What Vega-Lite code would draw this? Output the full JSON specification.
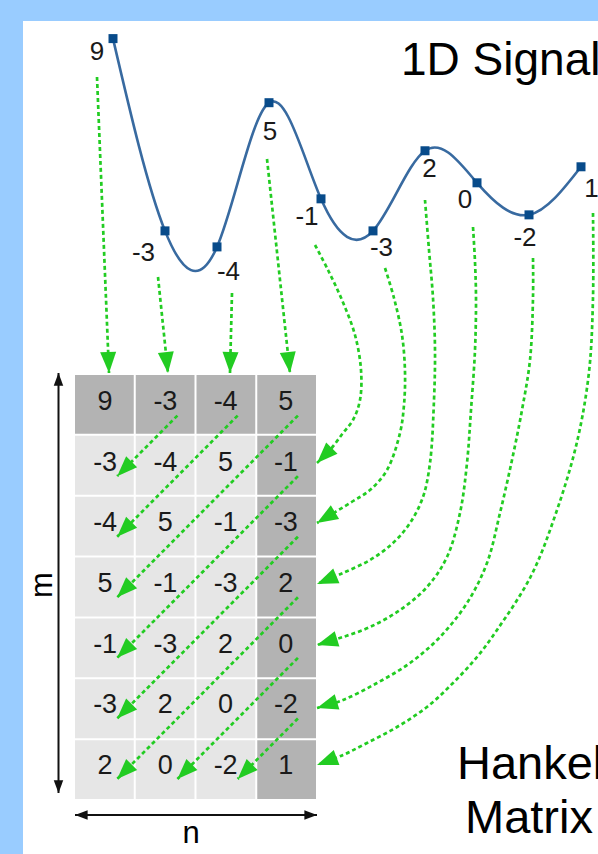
{
  "$schema": "https://vega.github.io/schema/vega-lite/v6.json",
  "width": 575,
  "height": 833,
  "autosize": "none",
  "padding": {"left": 23, "top": 21, "right": 0, "bottom": 0},
  "background": "#99ccff",
  "config": {
    "view": {"fill": "#ffffff", "stroke": null},
    "axis": {"disable": true},
    "font": "Liberation Sans",
    "text": {"font": "Liberation Sans"}
  },
  "resolve": {"scale": {"x": "independent", "y": "independent"}},
  "datasets": {
    "signal": [
      {"i": 0, "v": 9}, {"i": 1, "v": -3}, {"i": 2, "v": -4}, {"i": 3, "v": 5}, {"i": 4, "v": -1},
      {"i": 5, "v": -3}, {"i": 6, "v": 2}, {"i": 7, "v": 0}, {"i": 8, "v": -2}, {"i": 9, "v": 1}
    ],
    "labels": [
      {"t": "9", "x": 97, "y": 52},
      {"t": "-3", "x": 143.5, "y": 252.5},
      {"t": "-4", "x": 228.5, "y": 272},
      {"t": "5", "x": 270, "y": 132},
      {"t": "-1", "x": 307, "y": 217},
      {"t": "-3", "x": 381.5, "y": 248},
      {"t": "2", "x": 429.5, "y": 169},
      {"t": "0", "x": 465, "y": 200},
      {"t": "-2", "x": 525, "y": 237.5},
      {"t": "1", "x": 591.5, "y": 189}
    ],
    "cells": [
      {"row": 0, "col": 0, "value": "9"}, {"row": 0, "col": 1, "value": "-3"}, {"row": 0, "col": 2, "value": "-4"}, {"row": 0, "col": 3, "value": "5"},
      {"row": 1, "col": 0, "value": "-3"}, {"row": 1, "col": 1, "value": "-4"}, {"row": 1, "col": 2, "value": "5"}, {"row": 1, "col": 3, "value": "-1"},
      {"row": 2, "col": 0, "value": "-4"}, {"row": 2, "col": 1, "value": "5"}, {"row": 2, "col": 2, "value": "-1"}, {"row": 2, "col": 3, "value": "-3"},
      {"row": 3, "col": 0, "value": "5"}, {"row": 3, "col": 1, "value": "-1"}, {"row": 3, "col": 2, "value": "-3"}, {"row": 3, "col": 3, "value": "2"},
      {"row": 4, "col": 0, "value": "-1"}, {"row": 4, "col": 1, "value": "-3"}, {"row": 4, "col": 2, "value": "2"}, {"row": 4, "col": 3, "value": "0"},
      {"row": 5, "col": 0, "value": "-3"}, {"row": 5, "col": 1, "value": "2"}, {"row": 5, "col": 2, "value": "0"}, {"row": 5, "col": 3, "value": "-2"},
      {"row": 6, "col": 0, "value": "2"}, {"row": 6, "col": 1, "value": "0"}, {"row": 6, "col": 2, "value": "-2"}, {"row": 6, "col": 3, "value": "1"}
    ],
    "diag": [
      {"arrow": "d1", "step": 0, "col": 1, "row": 0}, {"arrow": "d1", "step": 1, "col": 0, "row": 1},
      {"arrow": "d2", "step": 0, "col": 2, "row": 0}, {"arrow": "d2", "step": 1, "col": 0, "row": 2},
      {"arrow": "d3", "step": 0, "col": 3, "row": 0}, {"arrow": "d3", "step": 1, "col": 0, "row": 3},
      {"arrow": "d4", "step": 0, "col": 3, "row": 1}, {"arrow": "d4", "step": 1, "col": 0, "row": 4},
      {"arrow": "d5", "step": 0, "col": 3, "row": 2}, {"arrow": "d5", "step": 1, "col": 0, "row": 5},
      {"arrow": "d6", "step": 0, "col": 3, "row": 3}, {"arrow": "d6", "step": 1, "col": 0, "row": 6},
      {"arrow": "d7", "step": 0, "col": 3, "row": 4}, {"arrow": "d7", "step": 1, "col": 1, "row": 6},
      {"arrow": "d8", "step": 0, "col": 3, "row": 5}, {"arrow": "d8", "step": 1, "col": 2, "row": 6}
    ],
    "paths": [
      {"arrow": "t1", "step": 0, "x": 97, "y": 77}, {"arrow": "t1", "step": 1, "x": 109, "y": 373},
      {"arrow": "t2", "step": 0, "x": 158, "y": 277}, {"arrow": "t2", "step": 1, "x": 168, "y": 373},
      {"arrow": "t3", "step": 0, "x": 232, "y": 293}, {"arrow": "t3", "step": 1, "x": 230, "y": 373},
      {"arrow": "t4", "step": 0, "x": 267, "y": 159}, {"arrow": "t4", "step": 1, "x": 290, "y": 373},
      {"arrow": "c1", "step": 0, "x": 315, "y": 245}, {"arrow": "c1", "step": 1, "x": 328, "y": 270},
      {"arrow": "c1", "step": 2, "x": 342, "y": 300}, {"arrow": "c1", "step": 3, "x": 355, "y": 335},
      {"arrow": "c1", "step": 4, "x": 361, "y": 370}, {"arrow": "c1", "step": 5, "x": 360, "y": 400},
      {"arrow": "c1", "step": 6, "x": 353, "y": 420}, {"arrow": "c1", "step": 7, "x": 343, "y": 433},
      {"arrow": "c1", "step": 8, "x": 330, "y": 450}, {"arrow": "c1", "step": 9, "x": 317, "y": 463},
      {"arrow": "c2", "step": 0, "x": 385, "y": 268}, {"arrow": "c2", "step": 1, "x": 394, "y": 298},
      {"arrow": "c2", "step": 2, "x": 402, "y": 335}, {"arrow": "c2", "step": 3, "x": 405, "y": 372},
      {"arrow": "c2", "step": 4, "x": 404, "y": 405}, {"arrow": "c2", "step": 5, "x": 400, "y": 433},
      {"arrow": "c2", "step": 6, "x": 387, "y": 470}, {"arrow": "c2", "step": 7, "x": 370, "y": 490},
      {"arrow": "c2", "step": 8, "x": 350, "y": 503}, {"arrow": "c2", "step": 9, "x": 317, "y": 523},
      {"arrow": "c3", "step": 0, "x": 425, "y": 200}, {"arrow": "c3", "step": 1, "x": 429, "y": 250},
      {"arrow": "c3", "step": 2, "x": 433, "y": 298}, {"arrow": "c3", "step": 3, "x": 435, "y": 350},
      {"arrow": "c3", "step": 4, "x": 434, "y": 400}, {"arrow": "c3", "step": 5, "x": 430, "y": 463},
      {"arrow": "c3", "step": 6, "x": 423, "y": 497}, {"arrow": "c3", "step": 7, "x": 410, "y": 523},
      {"arrow": "c3", "step": 8, "x": 393, "y": 543}, {"arrow": "c3", "step": 9, "x": 370, "y": 560},
      {"arrow": "c3", "step": 10, "x": 343, "y": 573}, {"arrow": "c3", "step": 11, "x": 317, "y": 584},
      {"arrow": "c4", "step": 0, "x": 473, "y": 227}, {"arrow": "c4", "step": 1, "x": 475, "y": 262},
      {"arrow": "c4", "step": 2, "x": 476, "y": 298}, {"arrow": "c4", "step": 3, "x": 475, "y": 350},
      {"arrow": "c4", "step": 4, "x": 471, "y": 410}, {"arrow": "c4", "step": 5, "x": 467, "y": 463},
      {"arrow": "c4", "step": 6, "x": 460, "y": 513}, {"arrow": "c4", "step": 7, "x": 447, "y": 557},
      {"arrow": "c4", "step": 8, "x": 427, "y": 587}, {"arrow": "c4", "step": 9, "x": 400, "y": 610},
      {"arrow": "c4", "step": 10, "x": 370, "y": 627}, {"arrow": "c4", "step": 11, "x": 343, "y": 637},
      {"arrow": "c4", "step": 12, "x": 317, "y": 645},
      {"arrow": "c5", "step": 0, "x": 533, "y": 258}, {"arrow": "c5", "step": 1, "x": 533, "y": 298},
      {"arrow": "c5", "step": 2, "x": 530, "y": 360}, {"arrow": "c5", "step": 3, "x": 522, "y": 410},
      {"arrow": "c5", "step": 4, "x": 512, "y": 460}, {"arrow": "c5", "step": 5, "x": 500, "y": 513},
      {"arrow": "c5", "step": 6, "x": 487, "y": 563}, {"arrow": "c5", "step": 7, "x": 467, "y": 603},
      {"arrow": "c5", "step": 8, "x": 440, "y": 637}, {"arrow": "c5", "step": 9, "x": 410, "y": 663},
      {"arrow": "c5", "step": 10, "x": 377, "y": 683}, {"arrow": "c5", "step": 11, "x": 343, "y": 700},
      {"arrow": "c5", "step": 12, "x": 317, "y": 708},
      {"arrow": "c6", "step": 0, "x": 593, "y": 213}, {"arrow": "c6", "step": 1, "x": 593, "y": 298},
      {"arrow": "c6", "step": 2, "x": 589, "y": 372}, {"arrow": "c6", "step": 3, "x": 577, "y": 442},
      {"arrow": "c6", "step": 4, "x": 556, "y": 513}, {"arrow": "c6", "step": 5, "x": 531, "y": 576},
      {"arrow": "c6", "step": 6, "x": 497, "y": 630}, {"arrow": "c6", "step": 7, "x": 477, "y": 657},
      {"arrow": "c6", "step": 8, "x": 453, "y": 683}, {"arrow": "c6", "step": 9, "x": 427, "y": 707},
      {"arrow": "c6", "step": 10, "x": 397, "y": 727}, {"arrow": "c6", "step": 11, "x": 367, "y": 743},
      {"arrow": "c6", "step": 12, "x": 343, "y": 755}, {"arrow": "c6", "step": 13, "x": 317, "y": 765}
    ],
    "dims": [
      {"arrow": "mu", "step": 0, "x": 58.5, "y": 583}, {"arrow": "mu", "step": 1, "x": 58.5, "y": 373},
      {"arrow": "md", "step": 0, "x": 58.5, "y": 583}, {"arrow": "md", "step": 1, "x": 58.5, "y": 793},
      {"arrow": "nl", "step": 0, "x": 196, "y": 815}, {"arrow": "nl", "step": 1, "x": 75, "y": 815},
      {"arrow": "nr", "step": 0, "x": 196, "y": 815}, {"arrow": "nr", "step": 1, "x": 317, "y": 815}
    ]
  },
  "layer": [
    {
      "data": {"name": "cells"},
      "mark": {"type": "rect"},
      "encoding": {
        "x": {"field": "col", "type": "ordinal", "scale": {"domain": [0, 1, 2, 3], "range": [52, 293], "paddingInner": 0.033, "paddingOuter": 0}},
        "y": {"field": "row", "type": "ordinal", "scale": {"domain": [0, 1, 2, 3, 4, 5, 6], "range": [354, 778], "paddingInner": 0.033, "paddingOuter": 0}},
        "color": {"condition": {"test": "datum.row === 0 || datum.col === 3", "value": "#b3b3b3"}, "value": "#e6e6e6"}
      }
    },
    {
      "data": {"name": "cells"},
      "mark": {"type": "text", "fontSize": 27, "color": "#1a1a1a", "dy": -3, "align": "center", "baseline": "middle"},
      "encoding": {
        "x": {"field": "col", "type": "ordinal", "scale": {"domain": [0, 1, 2, 3], "range": [52, 293], "paddingInner": 0.033, "paddingOuter": 0}},
        "y": {"field": "row", "type": "ordinal", "scale": {"domain": [0, 1, 2, 3, 4, 5, 6], "range": [354, 778], "paddingInner": 0.033, "paddingOuter": 0}},
        "text": {"field": "value", "type": "nominal"}
      }
    },
    {
      "data": {"name": "diag"},
      "mark": {"type": "line", "color": "#22cc22", "strokeWidth": 2.7, "strokeDash": [4, 3]},
      "encoding": {
        "x": {"field": "col", "type": "quantitative", "scale": {"domain": [-0.7, 3.3], "range": [52, 293], "nice": false, "zero": false}},
        "y": {"field": "row", "type": "quantitative", "scale": {"domain": [-0.67, 6.33], "range": [354, 778], "nice": false, "zero": false}},
        "detail": {"field": "arrow", "type": "nominal"},
        "order": {"field": "step", "type": "quantitative"}
      }
    },
    {
      "data": {"name": "diag"},
      "transform": [
        {"window": [{"op": "lag", "field": "col", "as": "pc"}, {"op": "lag", "field": "row", "as": "pr"}], "groupby": ["arrow"], "sort": [{"field": "step", "order": "ascending"}]},
        {"window": [{"op": "rank", "as": "rk"}], "groupby": ["arrow"], "sort": [{"field": "step", "order": "descending"}]},
        {"filter": "datum.rk === 1"},
        {"calculate": "atan2(datum.col - datum.pc, -(datum.row - datum.pr)) * 180 / PI", "as": "ang"}
      ],
      "mark": {"type": "point", "shape": "M0,0L0.8,2.1L-0.8,2.1Z", "filled": true, "size": 380, "color": "#22cc22", "opacity": 1, "strokeWidth": 0},
      "encoding": {
        "x": {"field": "col", "type": "quantitative", "scale": {"domain": [-0.7, 3.3], "range": [52, 293], "nice": false, "zero": false}},
        "y": {"field": "row", "type": "quantitative", "scale": {"domain": [-0.67, 6.33], "range": [354, 778], "nice": false, "zero": false}},
        "angle": {"field": "ang", "type": "quantitative", "scale": null}
      }
    },
    {
      "data": {"name": "paths"},
      "mark": {"type": "line", "interpolate": "catmull-rom", "color": "#22cc22", "strokeWidth": 2.7, "strokeDash": [4, 3]},
      "encoding": {
        "x": {"field": "x", "type": "quantitative", "scale": {"domain": [23, 598], "range": [0, 575], "nice": false, "zero": false}},
        "y": {"field": "y", "type": "quantitative", "scale": {"domain": [21, 854], "range": [0, 833], "nice": false, "zero": false}},
        "detail": {"field": "arrow", "type": "nominal"},
        "order": {"field": "step", "type": "quantitative"}
      }
    },
    {
      "data": {"name": "paths"},
      "transform": [
        {"window": [{"op": "lag", "field": "x", "as": "px"}, {"op": "lag", "field": "y", "as": "py"}], "groupby": ["arrow"], "sort": [{"field": "step", "order": "ascending"}]},
        {"window": [{"op": "rank", "as": "rk"}], "groupby": ["arrow"], "sort": [{"field": "step", "order": "descending"}]},
        {"filter": "datum.rk === 1"},
        {"calculate": "atan2(datum.x - datum.px, -(datum.y - datum.py)) * 180 / PI", "as": "ang"}
      ],
      "mark": {"type": "point", "shape": "M0,0L0.8,2.1L-0.8,2.1Z", "filled": true, "size": 400, "color": "#22cc22", "opacity": 1, "strokeWidth": 0},
      "encoding": {
        "x": {"field": "x", "type": "quantitative", "scale": {"domain": [23, 598], "range": [0, 575], "nice": false, "zero": false}},
        "y": {"field": "y", "type": "quantitative", "scale": {"domain": [21, 854], "range": [0, 833], "nice": false, "zero": false}},
        "angle": {"field": "ang", "type": "quantitative", "scale": null}
      }
    },
    {
      "data": {"name": "signal"},
      "mark": {"type": "line", "interpolate": "natural", "color": "#386aa0", "strokeWidth": 2.6},
      "encoding": {
        "x": {"field": "i", "type": "quantitative", "scale": {"domain": [0, 9], "range": [90, 558], "nice": false, "zero": false}},
        "y": {"field": "v", "type": "quantitative", "scale": {"domain": [-4, 9], "range": [225.9, 17.6], "nice": false, "zero": false}},
        "order": {"field": "i", "type": "quantitative"}
      }
    },
    {
      "data": {"name": "signal"},
      "mark": {"type": "point", "shape": "square", "filled": true, "size": 81, "color": "#084b8a", "opacity": 1},
      "encoding": {
        "x": {"field": "i", "type": "quantitative", "scale": {"domain": [0, 9], "range": [90, 558], "nice": false, "zero": false}},
        "y": {"field": "v", "type": "quantitative", "scale": {"domain": [-4, 9], "range": [225.9, 17.6], "nice": false, "zero": false}}
      }
    },
    {
      "data": {"name": "labels"},
      "mark": {"type": "text", "fontSize": 26, "color": "#1a1a1a", "align": "center", "baseline": "middle"},
      "encoding": {
        "x": {"field": "x", "type": "quantitative", "scale": {"domain": [23, 598], "range": [0, 575], "nice": false, "zero": false}},
        "y": {"field": "y", "type": "quantitative", "scale": {"domain": [21, 854], "range": [0, 833], "nice": false, "zero": false}},
        "text": {"field": "t", "type": "nominal"}
      }
    },
    {
      "data": {"values": [{"t": "1D Signal", "x": 401, "y": 75}]},
      "mark": {"type": "text", "fontSize": 46, "color": "#000000", "align": "left", "baseline": "alphabetic"},
      "encoding": {
        "x": {"field": "x", "type": "quantitative", "scale": {"domain": [23, 598], "range": [0, 575], "nice": false, "zero": false}},
        "y": {"field": "y", "type": "quantitative", "scale": {"domain": [21, 854], "range": [0, 833], "nice": false, "zero": false}},
        "text": {"field": "t", "type": "nominal"}
      }
    },
    {
      "data": {"values": [{"t": "Hankel", "x": 457, "y": 779}, {"t": "Matrix", "x": 465, "y": 833}]},
      "mark": {"type": "text", "fontSize": 47, "color": "#000000", "align": "left", "baseline": "alphabetic"},
      "encoding": {
        "x": {"field": "x", "type": "quantitative", "scale": {"domain": [23, 598], "range": [0, 575], "nice": false, "zero": false}},
        "y": {"field": "y", "type": "quantitative", "scale": {"domain": [21, 854], "range": [0, 833], "nice": false, "zero": false}},
        "text": {"field": "t", "type": "nominal"}
      }
    },
    {
      "data": {"values": [{"t": "n", "x": 191, "y": 843}]},
      "mark": {"type": "text", "fontSize": 31, "color": "#000000", "align": "center", "baseline": "alphabetic"},
      "encoding": {
        "x": {"field": "x", "type": "quantitative", "scale": {"domain": [23, 598], "range": [0, 575], "nice": false, "zero": false}},
        "y": {"field": "y", "type": "quantitative", "scale": {"domain": [21, 854], "range": [0, 833], "nice": false, "zero": false}},
        "text": {"field": "t", "type": "nominal"}
      }
    },
    {
      "data": {"values": [{"t": "m", "x": 42.5, "y": 585}]},
      "mark": {"type": "text", "fontSize": 31, "color": "#000000", "align": "center", "baseline": "middle", "angle": 270},
      "encoding": {
        "x": {"field": "x", "type": "quantitative", "scale": {"domain": [23, 598], "range": [0, 575], "nice": false, "zero": false}},
        "y": {"field": "y", "type": "quantitative", "scale": {"domain": [21, 854], "range": [0, 833], "nice": false, "zero": false}},
        "text": {"field": "t", "type": "nominal"}
      }
    },
    {
      "data": {"name": "dims"},
      "mark": {"type": "line", "color": "#111111", "strokeWidth": 2},
      "encoding": {
        "x": {"field": "x", "type": "quantitative", "scale": {"domain": [23, 598], "range": [0, 575], "nice": false, "zero": false}},
        "y": {"field": "y", "type": "quantitative", "scale": {"domain": [21, 854], "range": [0, 833], "nice": false, "zero": false}},
        "detail": {"field": "arrow", "type": "nominal"},
        "order": {"field": "step", "type": "quantitative"}
      }
    },
    {
      "data": {"name": "dims"},
      "transform": [
        {"window": [{"op": "lag", "field": "x", "as": "px"}, {"op": "lag", "field": "y", "as": "py"}], "groupby": ["arrow"], "sort": [{"field": "step", "order": "ascending"}]},
        {"window": [{"op": "rank", "as": "rk"}], "groupby": ["arrow"], "sort": [{"field": "step", "order": "descending"}]},
        {"filter": "datum.rk === 1"},
        {"calculate": "atan2(datum.x - datum.px, -(datum.y - datum.py)) * 180 / PI", "as": "ang"}
      ],
      "mark": {"type": "point", "shape": "M0,0L0.75,2L-0.75,2Z", "filled": true, "size": 160, "color": "#111111", "opacity": 1, "strokeWidth": 0},
      "encoding": {
        "x": {"field": "x", "type": "quantitative", "scale": {"domain": [23, 598], "range": [0, 575], "nice": false, "zero": false}},
        "y": {"field": "y", "type": "quantitative", "scale": {"domain": [21, 854], "range": [0, 833], "nice": false, "zero": false}},
        "angle": {"field": "ang", "type": "quantitative", "scale": null}
      }
    }
  ]
}
